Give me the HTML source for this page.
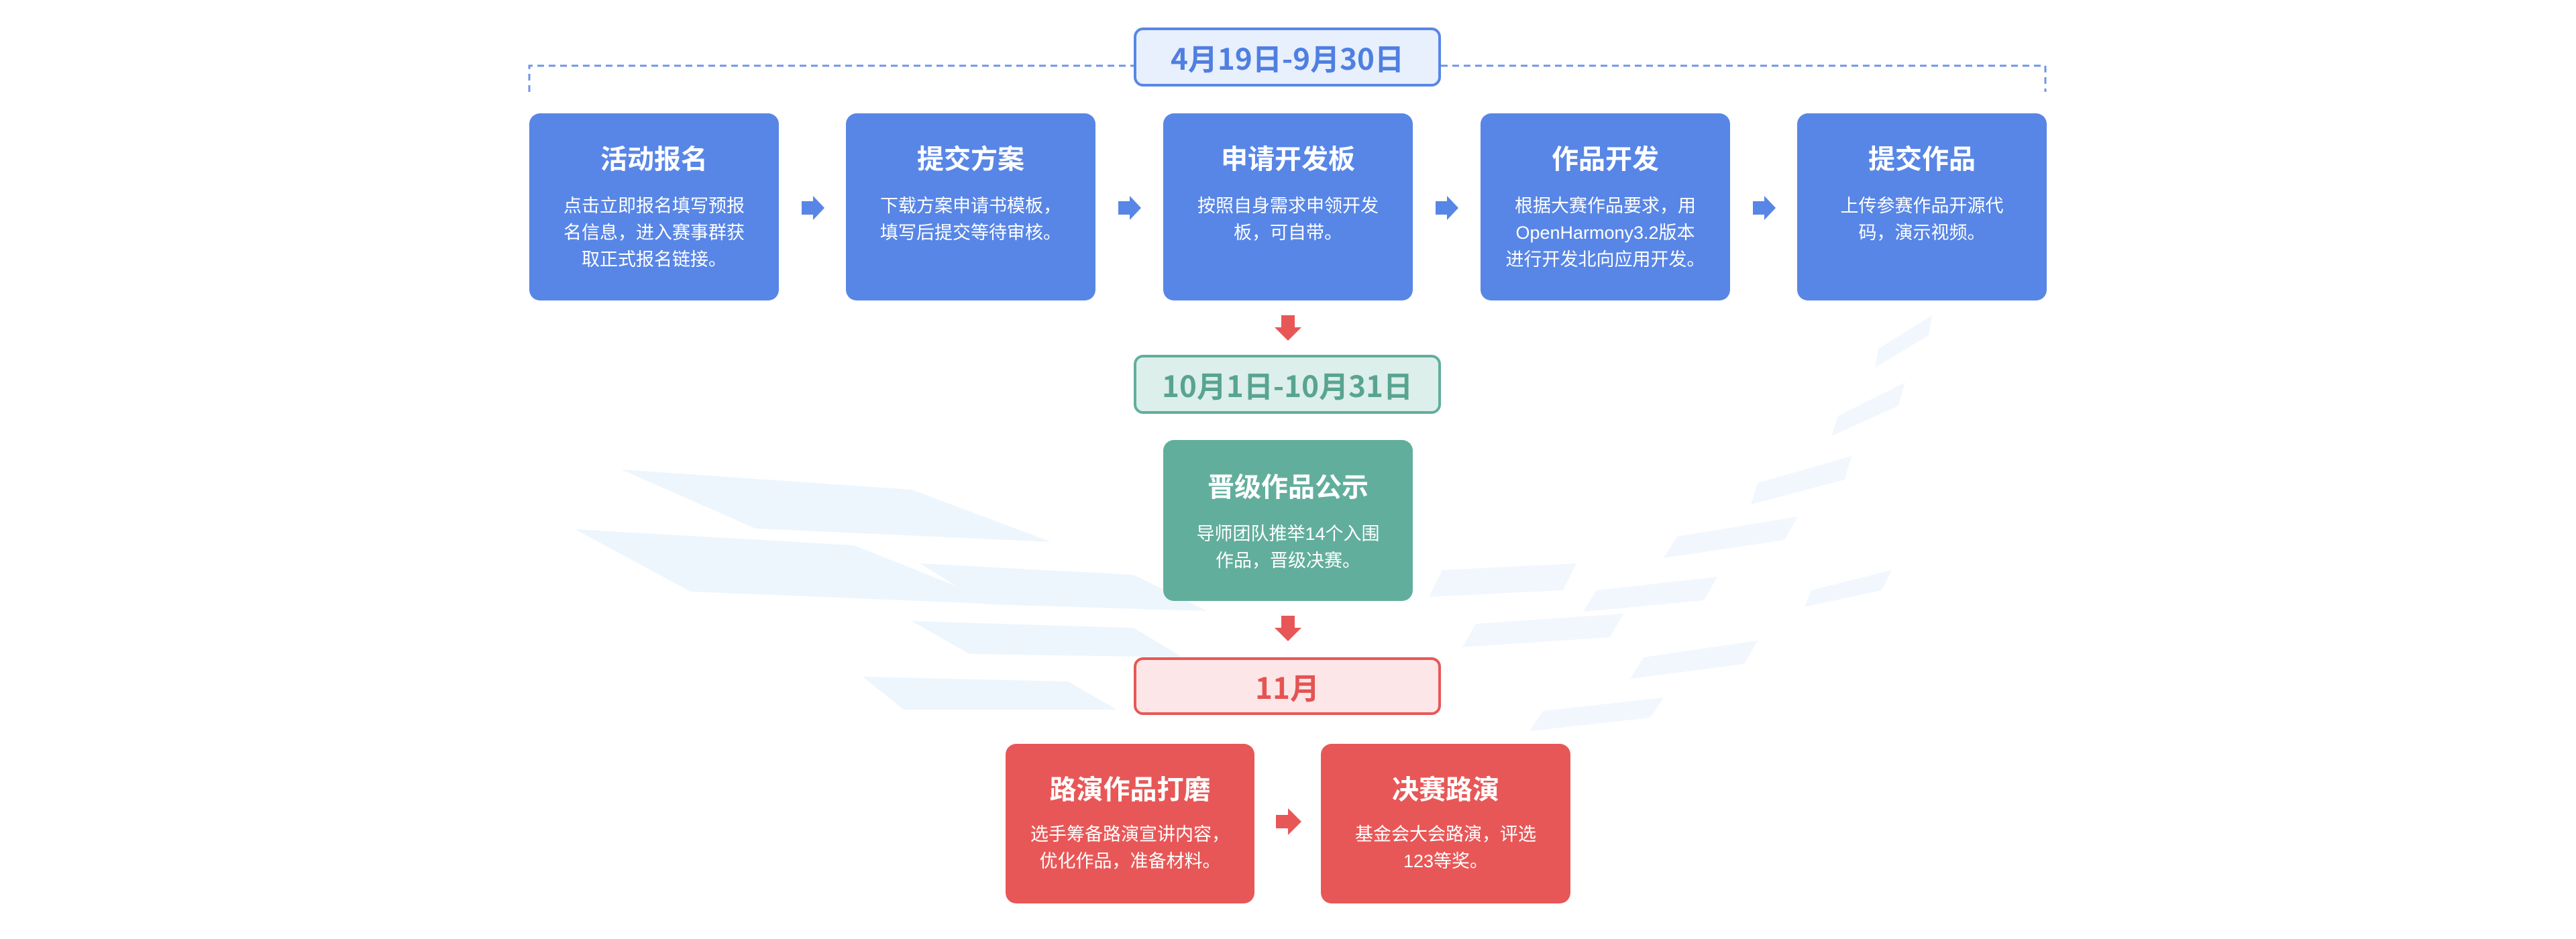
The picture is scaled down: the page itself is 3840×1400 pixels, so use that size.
<!DOCTYPE html>
<html><head><meta charset="utf-8"><style>
html,body{margin:0;padding:0}
body{width:3840px;height:1400px;position:relative;background:#fff;overflow:hidden;font-family:"Liberation Sans","Noto Sans CJK SC",sans-serif}
.box{position:absolute;border-radius:16px;color:#fff;text-align:center;box-sizing:border-box}
.box .t{position:absolute;left:0;right:0;font-weight:bold;font-size:40px;line-height:50px;white-space:nowrap}
.box .b{position:absolute;left:0;right:0;font-size:27px;line-height:40px;white-space:nowrap}
.blue{background:#5886e6;top:169px;width:372px;height:279px}
.blue .t{top:44px}
.blue .b{top:118px}
.date{position:absolute;left:1690px;width:458px;box-sizing:border-box;border-radius:14px;border:4px solid;text-align:center;font-weight:bold;font-size:44px;white-space:nowrap;font-family:"Noto Sans CJK SC",sans-serif}
svg{position:absolute;left:0;top:0}
</style></head><body>
<svg width="3840" height="1400">
 <g fill="#eef6fd">
  <polygon points="926,700 1359,730 1567,808 1126,788"/>
  <polygon points="857,789 1273,813 1494,901 1029,882"/>
  <polygon points="1371,840 1690,857 1800,911 1469,901"/>
  <polygon points="1359,926 1690,936 1763,980 1445,975"/>
  <polygon points="1286,1009 1592,1016 1665,1058 1347,1058"/>
 </g>
 <g fill="#f1f7fd">
  <polygon points="2150,850 2350,840 2330,880 2130,890"/>
  <polygon points="2200,930 2420,915 2400,950 2180,965"/>
  <polygon points="2380,880 2560,860 2540,895 2360,912"/>
  <polygon points="2500,800 2680,770 2660,805 2480,832"/>
  <polygon points="2450,980 2620,955 2600,990 2430,1012"/>
  <polygon points="2620,720 2760,680 2750,715 2610,752"/>
  <polygon points="2700,880 2820,850 2805,880 2690,905"/>
  <polygon points="2740,620 2840,570 2830,605 2730,650"/>
  <polygon points="2800,520 2880,470 2875,500 2795,548"/>
  <polygon points="2300,1060 2480,1040 2460,1070 2280,1090"/>
 </g>
 <path d="M789,137 V98 H1690 M2148,98 H3049 V137" fill="none" stroke="#6f95e8" stroke-width="3" stroke-dasharray="10,7"/>
 <g fill="#5886e6">
  <polygon points="1195,300 1212,300 1212,292 1229,310 1212,328 1212,320 1195,320"/>
  <polygon points="1667,300 1684,300 1684,292 1701,310 1684,328 1684,320 1667,320"/>
  <polygon points="2140,300 2157,300 2157,292 2174,310 2157,328 2157,320 2140,320"/>
  <polygon points="2613,300 2630,300 2630,292 2647,310 2630,328 2630,320 2613,320"/>
 </g>
 <g fill="#e85757">
  <polygon points="1910,470 1930,470 1930,488 1940,488 1920,508 1900,488 1910,488"/>
  <polygon points="1910,918 1930,918 1930,936 1940,936 1920,956 1900,936 1910,936"/>
  <polygon points="1902,1215 1920,1215 1920,1205 1940,1225 1920,1245 1920,1235 1902,1235"/>
 </g>
</svg>
<div class="date" style="top:41px;height:88px;line-height:80px;background:#e8effd;border-color:#5886e6;color:#4f7fe0">4月19日-9月30日</div>
<div class="box blue" style="left:789px"><div class="t">活动报名</div><div class="b">点击立即报名填写预报<br>名信息，进入赛事群获<br>取正式报名链接。</div></div>
<div class="box blue" style="left:1261px"><div class="t">提交方案</div><div class="b">下载方案申请书模板，<br>填写后提交等待审核。</div></div>
<div class="box blue" style="left:1734px"><div class="t">申请开发板</div><div class="b">按照自身需求申领开发<br>板，可自带。</div></div>
<div class="box blue" style="left:2207px"><div class="t">作品开发</div><div class="b">根据大赛作品要求，用<br>OpenHarmony3.2版本<br>进行开发北向应用开发。</div></div>
<div class="box blue" style="left:2679px"><div class="t">提交作品</div><div class="b">上传参赛作品开源代<br>码，演示视频。</div></div>
<div class="date" style="top:529px;height:88px;line-height:80px;background:#dcefea;border-color:#62ae9c;color:#58a491">10月1日-10月31日</div>
<div class="box" style="left:1734px;top:656px;width:372px;height:240px;background:#62ae9c"><div class="t" style="top:46px">晋级作品公示</div><div class="b" style="top:120px">导师团队推举14个入围<br>作品，晋级决赛。</div></div>
<div class="date" style="top:980px;height:86px;line-height:78px;background:#fde6e7;border-color:#e85757;color:#e55353">11月</div>
<div class="box" style="left:1499px;top:1109px;width:371px;height:238px;background:#e85757"><div class="t" style="top:44px">路演作品打磨</div><div class="b" style="top:115px">选手筹备路演宣讲内容，<br>优化作品，准备材料。</div></div>
<div class="box" style="left:1969px;top:1109px;width:372px;height:238px;background:#e85757"><div class="t" style="top:44px">决赛路演</div><div class="b" style="top:115px">基金会大会路演，评选<br>123等奖。</div></div>
</body></html>
